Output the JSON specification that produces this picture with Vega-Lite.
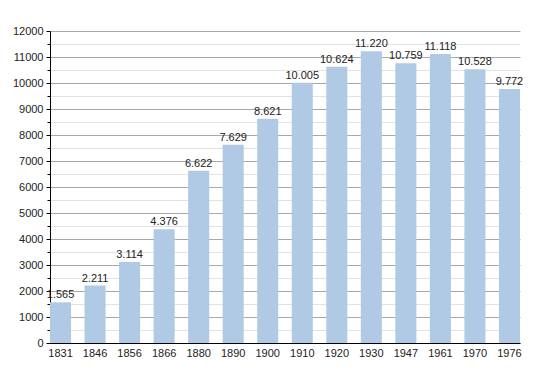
{
  "$schema": "https://vega.github.io/schema/vega-lite/v6.json",
  "width": 470,
  "height": 312,
  "autosize": {"type": "none"},
  "padding": {"left": 50, "top": 31, "right": 30, "bottom": 30},
  "background": "white",
  "config": {
    "view": {"stroke": null},
    "font": "Liberation Sans",
    "locale": {"number": {"decimal": ",", "thousands": ".", "grouping": [3], "currency": ["", ""]}}
  },
  "data": {
    "values": [
      {"year": "1831", "pop": 1565},
      {"year": "1846", "pop": 2211},
      {"year": "1856", "pop": 3114},
      {"year": "1866", "pop": 4376},
      {"year": "1880", "pop": 6622},
      {"year": "1890", "pop": 7629},
      {"year": "1900", "pop": 8621},
      {"year": "1910", "pop": 10005},
      {"year": "1920", "pop": 10624},
      {"year": "1930", "pop": 11220},
      {"year": "1947", "pop": 10759},
      {"year": "1961", "pop": 11118},
      {"year": "1970", "pop": 10528},
      {"year": "1976", "pop": 9772}
    ]
  },
  "encoding": {
    "x": {
      "field": "year", "type": "nominal", "sort": null,
      "scale": {"paddingInner": 0.39, "paddingOuter": 0},
      "axis": {"title": null, "labelAngle": 0, "ticks": false, "domainColor": "#000", "labelFontSize": 11, "labelColor": "#222", "labelPadding": 4}
    },
    "y": {
      "field": "pop", "type": "quantitative",
      "scale": {"domain": [0, 12000], "nice": false}
    }
  },
  "layer": [
    {
      "mark": {"type": "bar", "color": "#b0cae6"},
      "encoding": {
        "y": {
          "field": "pop", "type": "quantitative",
          "axis": {"orient": "left", "title": null, "values": [500,1500,2500,3500,4500,5500,6500,7500,8500,9500,10500,11500], "labels": false, "domain": false, "tickSize": 3, "tickColor": "#000", "gridColor": "#e2e2e2", "grid": true}
        }
      }
    },
    {
      "mark": {"type": "text", "baseline": "bottom", "dy": -2, "fontSize": 11, "color": "#222"},
      "encoding": {
        "text": {"field": "pop", "type": "quantitative", "format": ",d"},
        "y": {
          "field": "pop", "type": "quantitative",
          "axis": {"orient": "left", "title": null, "values": [0,1000,2000,3000,4000,5000,6000,7000,8000,9000,10000,11000,12000], "format": "d", "domainColor": "#000", "tickSize": 4, "tickColor": "#000", "gridColor": "#a8a8a8", "grid": true, "labelFontSize": 11, "labelColor": "#222", "labelPadding": 3}
        }
      }
    }
  ],
  "resolve": {"axis": {"y": "independent"}}
}
